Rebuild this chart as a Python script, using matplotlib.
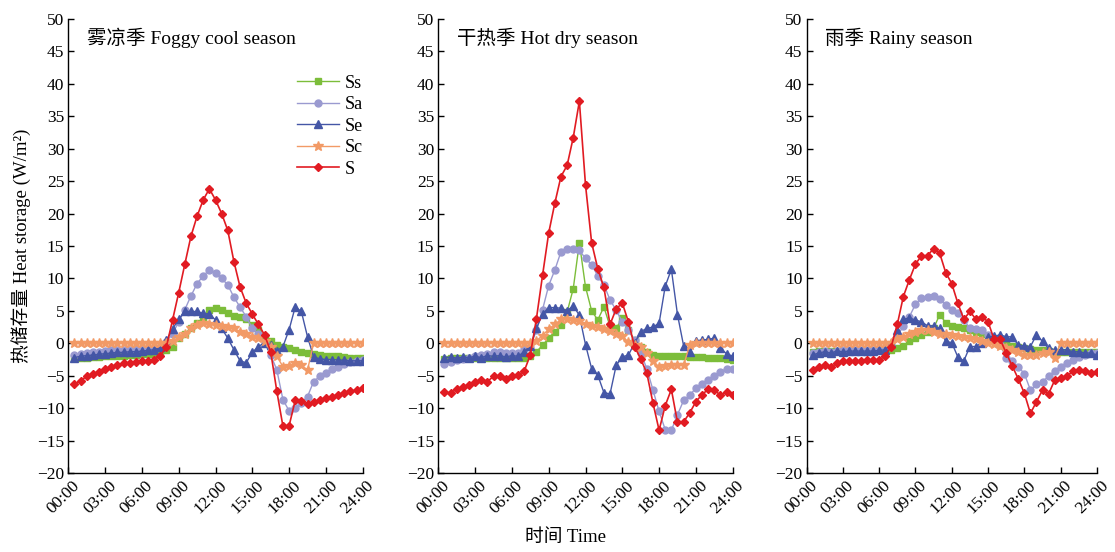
import matplotlib
matplotlib.use('Agg')
import matplotlib.pyplot as plt
import matplotlib.transforms as mtransforms

plt.rcParams['font.family'] = ['Liberation Serif', 'Noto Sans CJK SC']

# half-hourly values, 00:30 ... 24:00
hours = [0.5 * i for i in range(1, 49)]
series_names = ['Ss', 'Sa', 'Se', 'Sc', 'S']

# 雾凉季 Foggy cool season
fog_ss = [-2.3, -2.2, -2.2, -2.1, -2.1, -2.0, -2.0, -1.9, -1.9, -1.8, -1.8, -1.7, -1.7, -1.6,
          -1.4, -1.0, -0.5, 0.8, 1.5, 2.3, 3.1, 3.7, 5.2, 5.4,
          5.1, 4.6, 4.2, 4.1, 3.7, 2.8, 2.1, 1.0, 0.3, -0.3,
          -0.5, -0.8, -1.0, -1.3, -1.5, -1.7, -1.8, -1.9, -2.0, -2.0, -2.1, -2.2, -2.2, -2.3]
fog_sa = [-1.8, -1.6, -1.5, -1.4, -1.3, -1.2, -1.1, -1.1, -1.0, -1.0, -0.9, -0.9, -0.8, -0.7,
          -0.5, 0.2, 1.5, 3.3, 5.2, 7.3, 9.2, 10.4, 11.3, 10.9,
          10.0, 9.0, 7.1, 5.6, 4.1, 2.3, 1.5, 0.0, -1.8, -4.1,
          -8.7, -10.4, -9.9, -9.2, -8.2, -5.9, -5.1, -4.5, -4.0, -3.6, -3.2, -2.9, -2.7, -2.6]
fog_se = [-2.2, -2.0, -1.9, -1.8, -1.7, -1.6, -1.5, -1.4, -1.4, -1.3, -1.3, -1.2, -1.1, -1.0,
          -0.6, 0.5, 2.2, 3.7, 4.9, 4.9, 4.9, 4.6, 4.5, 3.6,
          2.3, 0.8, -1.0, -2.7, -3.0, -1.4, -0.5, 0.1, -0.3, -1.2,
          -0.5, 2.1, 5.6, 4.9, 1.0, -2.1, -2.4, -2.5, -2.5, -2.6, -2.6, -2.7, -2.7, -2.7]
fog_sc = [0, 0, 0, 0, 0, 0, 0, 0, 0, 0, 0, 0, 0, 0, 0,
          0.1, 0.3, 1.0, 1.5, 2.3, 2.8, 3.2, 3.0, 2.8,
          2.7, 2.5, 2.3, 1.8, 1.4, 1.0, 0.8, 0.3, -0.5, -2.0,
          -3.6, -3.5, -3.0, -3.4, -4.1, 0, 0, 0, 0, 0, 0, 0, 0, 0]
fog_s = [-6.3, -5.75, -5.1, -4.7, -4.4, -4.0, -3.7, -3.3, -3.1, -3.0, -2.9, -2.8, -2.7, -2.5,
         -1.95, -0.5, 3.6, 7.8, 12.2, 16.5, 19.6, 22.1, 23.8, 22.1,
         20.0, 17.4, 12.6, 8.7, 6.2, 4.5, 2.9, 1.3, -1.3, -7.4,
         -12.8, -12.7, -8.8, -8.9, -9.4, -9.1, -8.8, -8.5, -8.2, -7.9, -7.6, -7.4, -7.2, -6.9]

# 干热季 Hot dry season
dry_ss = [-2.4, -2.3, -2.3, -2.2, -2.2, -2.2, -2.2, -2.2, -2.2, -2.3, -2.3, -2.3, -2.2, -2.2,
          -2.0, -1.3, -0.3, 0.8, 1.8, 2.8, 4.8, 8.4, 15.5, 8.7,
          5.0, 3.6, 5.6, 2.6, 2.3, 3.9, 2.0, 0.5, -0.5, -1.3,
          -1.8, -2.0, -2.0, -2.0, -2.0, -2.0, -2.1, -2.1, -2.1, -2.2, -2.2, -2.3, -2.4, -2.5]
dry_sa = [-3.2, -2.9, -2.6, -2.4, -2.2, -1.9, -1.8, -1.6, -1.4, -1.3, -1.5, -1.5, -1.5, -0.9,
          -0.5, 2.0, 5.2, 8.9, 11.3, 14.1, 14.5, 14.5, 14.3, 13.1,
          12.1, 10.4, 9.0, 6.7, 5.1, 3.3, 2.0, 0.5, -1.5, -3.9,
          -7.2, -10.5, -13.3, -13.4, -11.0, -8.8, -8.0, -6.9, -6.2, -5.6, -5.1, -4.4, -3.9, -4.0]
dry_se = [-2.2, -2.1, -2.3, -2.1, -2.2, -2.0, -2.2, -1.9, -2.0, -1.9, -2.1, -1.9, -2.0, -1.3,
          -0.4, 2.3, 4.5, 5.5, 5.5, 5.4, 5.0, 5.8, 4.3, -0.2,
          -3.9, -4.9, -7.6, -7.8, -3.4, -2.1, -1.8, 0.0, 1.8, 2.3,
          2.5, 3.1, 8.8, 11.4, 4.4, -0.4, -1.3, 0.4, 0.5, 0.6, 0.8, -0.8, -1.6, -2.0]
dry_sc = [0, 0, 0, 0, 0, 0, 0, 0, 0, 0, 0, 0, 0, 0, 0,
          0.4, 1.2, 2.2, 2.9, 3.7, 3.7, 3.6, 3.4, 3.0,
          2.6, 2.5, 2.2, 1.9, 1.5, 1.1, 0.2, -0.3, -0.6, -1.5,
          -2.8, -3.6, -3.5, -3.4, -3.4, -3.4, -0.2, 0, 0, 0, 0, 0, 0, 0]
dry_s = [-7.5, -7.7, -7.0, -6.8, -6.4, -6.0, -5.7, -5.9, -5.1, -5.1, -5.5, -5.0, -4.9, -4.3,
         -1.8, 3.8, 10.5, 17.0, 21.6, 25.7, 27.4, 31.7, 37.3, 24.4,
         15.5, 11.5, 8.6, 2.9, 5.3, 6.2, 3.3, -0.5, -2.4, -4.6,
         -9.2, -13.4, -9.6, -7.1, -12.2, -12.1, -10.7, -9.0, -7.9, -7.1, -7.2, -8.0, -7.5, -8.0]

# 雨季 Rainy season
rain_ss = [-1.3, -1.2, -1.2, -1.2, -1.2, -1.2, -1.2, -1.2, -1.2, -1.2, -1.2, -1.1, -1.1,
           -1.0, -0.8, -0.4, 0.3, 0.8, 1.3, 1.8, 2.3, 4.4, 3.2,
           2.7, 2.5, 2.3, 2.1, 1.8, 1.5, 0.9, 0.6, 0.3, 0.0,
           -0.4, -0.6, -0.8, -0.9, -1.0, -1.1, -1.2, -1.3, -1.3, -1.3, -1.3, -1.3, -1.3, -1.3, -1.3]
rain_sa = [-1.5, -1.4, -1.2, -1.3, -1.2, -1.1, -1.0, -1.0, -1.0, -1.0, -1.0, -1.0, -0.8, -0.2,
           1.2, 2.6, 4.1, 6.0, 7.0, 7.1, 7.3, 6.8, 5.9, 5.1,
           4.6, 3.6, 2.3, 2.2, 2.1, 1.3, 0.6, -0.3, -2.2, -2.8,
           -3.6, -4.7, -7.2, -6.3, -5.9, -5.1, -4.2, -3.6, -3.0, -2.6, -2.1, -1.8, -1.5, -1.5]
rain_se = [-1.8, -1.5, -1.3, -1.5, -1.2, -1.3, -1.2, -1.2, -1.2, -1.2, -1.2, -1.1, -1.0,
           0.0, 2.1, 3.7, 3.9, 3.6, 3.3, 2.7, 2.7, 2.3, 0.3,
           0.1, -2.1, -2.7, -0.5, -0.5, 0.1, 1.0, 1.1, 1.3, 1.0,
           1.0, -0.3, -0.4, -0.5, 1.3, 0.3, -0.8, -1.0, -1.0, -1.0, -1.3, -1.3, -1.5, -1.5, -1.8]
rain_sc = [0, 0, 0, 0, 0, 0, 0, 0, 0, 0, 0, 0, 0, 0,
           0.6, 1.0, 1.4, 1.8, 2.0, 2.0, 1.8, 1.5, 1.4, 1.3,
           1.1, 0.9, 0.8, 0.6, 0.4, 0.1, -0.1, -0.4, -0.8, -1.1,
           -1.4, -1.8, -1.8, -1.8, -1.5, -1.4, -2.2, 0, 0, 0, 0, 0, 0, 0]
rain_s = [-4.1, -3.7, -3.3, -3.7, -3.1, -2.8, -2.7, -2.7, -2.7, -2.5, -2.6, -2.6, -1.9,
          -0.5, 2.9, 7.2, 9.8, 12.2, 13.5, 13.5, 14.6, 13.9, 10.9,
          9.2, 6.2, 3.7, 4.9, 3.7, 4.1, 3.3, 0.6, 0.6, -1.5,
          -3.5, -5.5, -7.7, -10.8, -9.0, -7.2, -7.8, -5.7, -5.4, -5.1, -4.3, -4.1, -4.3, -4.5, -4.4]

panel_titles = ['雾凉季 Foggy cool season', '干热季 Hot dry season', '雨季 Rainy season']
panel_data = [
    [fog_ss, fog_sa, fog_se, fog_sc, fog_s],
    [dry_ss, dry_sa, dry_se, dry_sc, dry_s],
    [rain_ss, rain_sa, rain_se, rain_sc, rain_s],
]
tick_hours = [0, 3, 6, 9, 12, 15, 18, 21, 24]
tick_labels = ['00:00', '03:00', '06:00', '09:00', '12:00', '15:00', '18:00', '21:00', '24:00']

colors = ['#7cbd3a', '#9a9ad0', '#4456a6', '#f29a66', '#e11b22']
markers = ['s', 'o', '^', '*', 'D']
msizes = [4.5, 5, 5.5, 7, 4.5]
lwidths = [1.0, 1.0, 1.0, 1.0, 1.2]

W, H = 1115, 552
fig = plt.figure(figsize=(W / 100, H / 100), dpi=100)
lefts = [68.3, 438.3, 806.5]
widths = [294.4, 294.4, 290.5]

for p, left in enumerate(lefts):
    ax = fig.add_axes([left / W, 1 - 473.1 / H, widths[p] / W, 454.3 / H])
    for i, vals in enumerate(panel_data[p]):
        ax.plot(hours, vals, color=colors[i], marker=markers[i], ms=msizes[i],
                mec=colors[i], mfc=colors[i], lw=lwidths[i], label=series_names[i])

    ax.set_xlim(0, 24)
    ax.set_ylim(-20, 50)
    ax.set_yticks(range(-20, 51, 5))
    ax.set_xticks(tick_hours)
    ax.set_xticklabels(tick_labels, rotation=45, ha='center')
    ax.tick_params(direction='in', length=4, width=1, labelsize=12.5, pad=3)
    # nudge rotated labels a little to the left, as in the original
    shift = mtransforms.ScaledTranslation(-5 / 100, 0, fig.dpi_scale_trans)
    for lab in ax.get_xticklabels():
        lab.set_transform(lab.get_transform() + shift)
    ax.spines['top'].set_visible(False)
    ax.spines['right'].set_visible(False)
    for s in ['left', 'bottom']:
        ax.spines[s].set_linewidth(1.0)
    ax.text(0.065, 0.958, panel_titles[p], transform=ax.transAxes,
            fontsize=14, va='center', ha='left')

    if p == 0:
        ax.set_ylabel('热储存量 Heat storage (W/m²)', fontsize=13.5, labelpad=4)
        ax.legend(loc='upper left', bbox_to_anchor=(0.735, 0.905), frameon=False,
                  fontsize=13, handlelength=2.3, labelspacing=0.25,
                  handletextpad=0.3, borderpad=0.2)

fig.text(0.507, 0.027, '时间 Time', ha='center', va='center', fontsize=13.5)

fig.savefig('out.png', dpi=100)
